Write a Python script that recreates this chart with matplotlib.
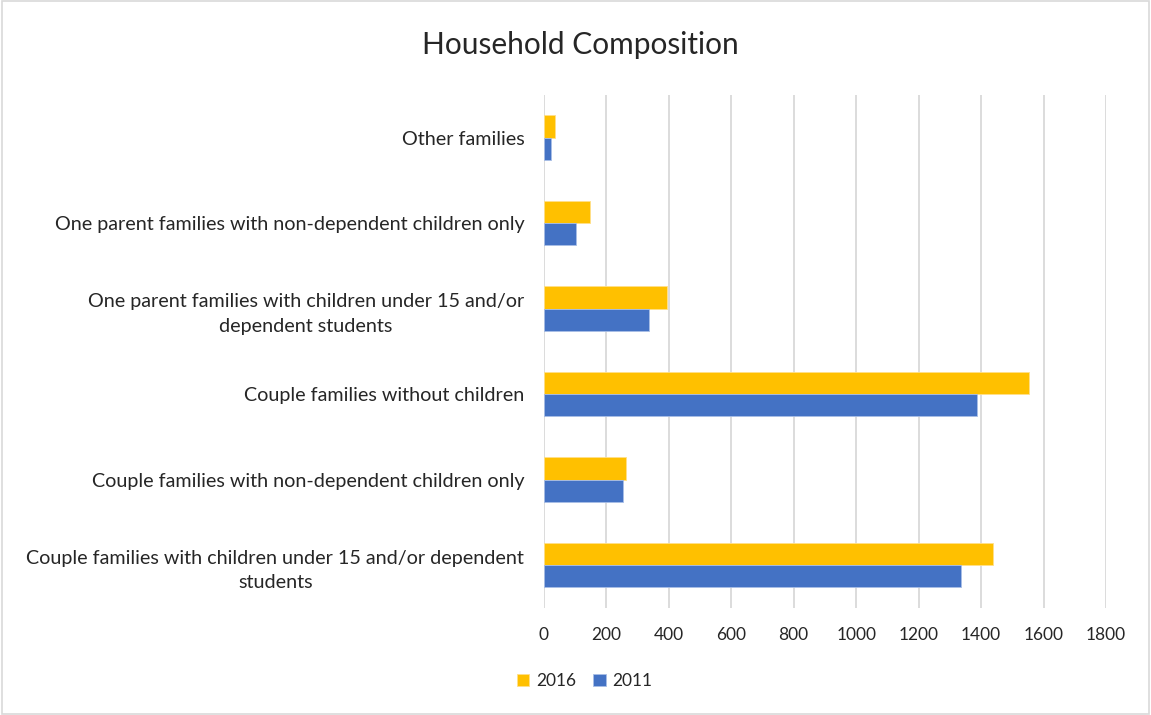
import matplotlib
matplotlib.use("Agg")
import matplotlib.pyplot as plt
import numpy as np

plt.rcParams['font.family'] = ['Lato', 'DejaVu Sans']

# categories listed bottom to top
categories = [
    "Couple families with children under 15 and/or dependent\nstudents",
    "Couple families with non-dependent children only",
    "Couple families without children",
    "One parent families with children under 15 and/or\ndependent students",
    "One parent families with non-dependent children only",
    "Other families",
]
values_2016 = [1438, 264, 1553, 396, 149, 35]
values_2011 = [1335, 253, 1386, 338, 104, 24]
series_labels = ["2016", "2011"]
x_ticks = [0, 200, 400, 600, 800, 1000, 1200, 1400, 1600, 1800]

ORANGE = '#FFC000'
BLUE = '#4472C4'
TEXT = '#262626'

fig = plt.figure(figsize=(11.51, 7.15), dpi=100)
ax = fig.add_axes([0.4724, 0.1497, 0.4886, 0.7175])

y = np.arange(len(categories))
h = 0.26
b16 = ax.barh(y + h / 2, values_2016, height=h, color=ORANGE,
              edgecolor='#FFE08A', linewidth=0.6, label=series_labels[0], zorder=3)
b11 = ax.barh(y - h / 2, values_2011, height=h, color=BLUE,
              edgecolor='#A9BEE6', linewidth=0.6, label=series_labels[1], zorder=3)

ax.set_xlim(0, 1800)
ax.set_ylim(-0.5, len(categories) - 0.5)
ax.set_xticks(x_ticks)
ax.set_yticks(y)
ax.set_yticklabels(categories, multialignment='center', linespacing=1.55)
ax.tick_params(axis='y', length=0, pad=14, labelsize=14.2, labelcolor=TEXT)
ax.tick_params(axis='x', length=0, pad=14, labelsize=12.5, labelcolor=TEXT)
ax.grid(axis='x', color='#D9D9D9', linewidth=1.3, zorder=0)
for s in ax.spines.values():
    s.set_visible(False)

fig.text(0.504, 0.937, "Household Composition", ha='center', va='center',
         fontsize=21.5, color=TEXT)

fig.legend(handles=[b16, b11], loc='center', bbox_to_anchor=(0.508, 0.047),
           ncol=2, frameon=False, fontsize=12.5, handlelength=0.7,
           handleheight=0.7, handletextpad=0.4, columnspacing=1.0,
           labelcolor=TEXT)

# thin chart border
fig.patches.append(plt.Rectangle((0.002, 0.002), 0.996, 0.996, transform=fig.transFigure,
                                 fill=False, edgecolor='#D9D9D9', linewidth=1.2))

fig.savefig("out.png", dpi=100)
